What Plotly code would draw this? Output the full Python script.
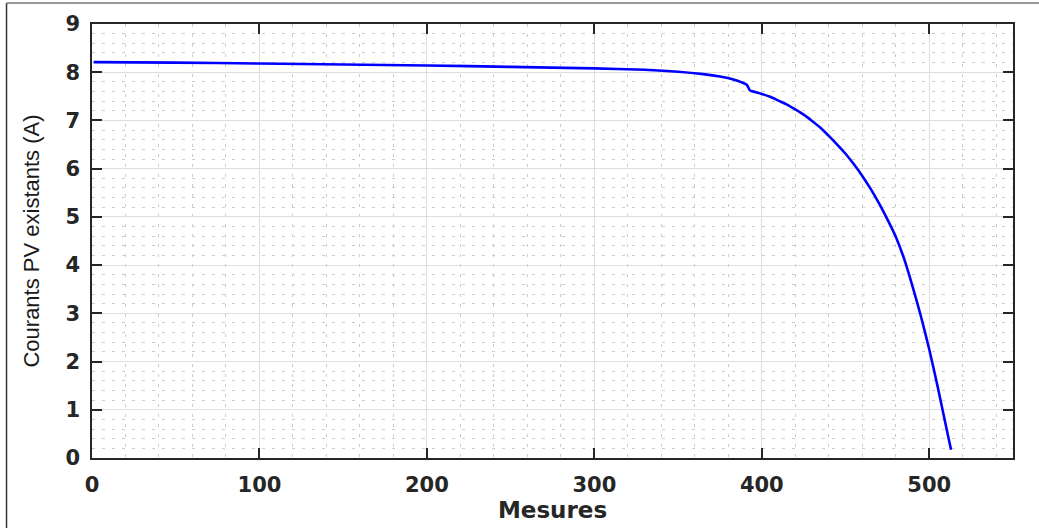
import plotly.graph_objects as go

# Measured PV current per sample index
mesures = [1, 50, 100, 150, 200, 250, 300, 330, 350, 365, 375, 383, 388, 391,
           392, 393, 396, 400, 405, 410, 415, 420, 425, 430, 435, 440, 445,
           450, 455, 460, 465, 470, 475, 480, 485, 490, 495, 500, 505, 510, 513]
courants = [8.21, 8.20, 8.18, 8.16, 8.14, 8.11, 8.08, 8.05, 8.01, 7.96, 7.91,
            7.85, 7.79, 7.74, 7.68, 7.62, 7.59, 7.55, 7.49, 7.41, 7.33, 7.23,
            7.12, 6.99, 6.85, 6.68, 6.50, 6.31, 6.09, 5.85, 5.58, 5.28, 4.95,
            4.59, 4.13, 3.56, 2.94, 2.25, 1.48, 0.66, 0.17]

x_ticks = [0, 100, 200, 300, 400, 500]
y_ticks = [0, 1, 2, 3, 4, 5, 6, 7, 8, 9]

fig = go.Figure()
fig.add_trace(go.Scatter(
    x=mesures, y=courants, mode="lines",
    line=dict(color="#0000ff", width=2.6, shape="spline", smoothing=0.7),
    showlegend=False,
))

tick_font = dict(family="DejaVu Sans", size=21, color="#262626", weight="bold")
axis_common = dict(
    showline=True, linecolor="#262626", linewidth=1.5, mirror="ticks",
    ticks="inside", ticklen=10, tickwidth=2, tickcolor="#262626",
    showgrid=True, gridcolor="#dedede", gridwidth=1,
    zeroline=False, tickfont=tick_font, automargin=False,
)

fig.update_xaxes(
    range=[0, 550], tickvals=x_ticks, ticktext=[str(v) for v in x_ticks],
    minor=dict(dtick=20, tick0=0, showgrid=True, gridcolor="#cccccc",
               griddash="3px,7px", gridwidth=1),
    title=dict(text="Mesures", standoff=5,
               font=dict(family="DejaVu Sans", size=23, color="#262626", weight="bold")),
    ticklabelstandoff=7,
    **axis_common,
)
fig.update_yaxes(
    range=[0, 9], tickvals=y_ticks, ticktext=[str(v) for v in y_ticks],
    minor=dict(dtick=0.2, tick0=0, showgrid=True, gridcolor="#cccccc",
               griddash="3px,7px", gridwidth=1),
    title=dict(text="Courants PV existants (A)", standoff=20,
               font=dict(family="Liberation Sans", size=22, color="#1a1a1a")),
    ticklabelstandoff=6,
    **axis_common,
)

# Outer frame (left and top edges)
fig.add_shape(type="line", xref="paper", yref="paper",
              x0=-0.0928, x1=-0.0928, y0=-0.2, y1=1.0484,
              line=dict(color="#333333", width=1.5))
fig.add_shape(type="line", xref="paper", yref="paper",
              x0=-0.0928, x1=1.05, y0=1.0484, y1=1.0484,
              line=dict(color="#777777", width=1.5))

fig.update_layout(
    width=1039, height=528,
    margin=dict(l=92, r=26, t=24, b=70),
    paper_bgcolor="white", plot_bgcolor="white",
)

fig.write_html("out.html")
